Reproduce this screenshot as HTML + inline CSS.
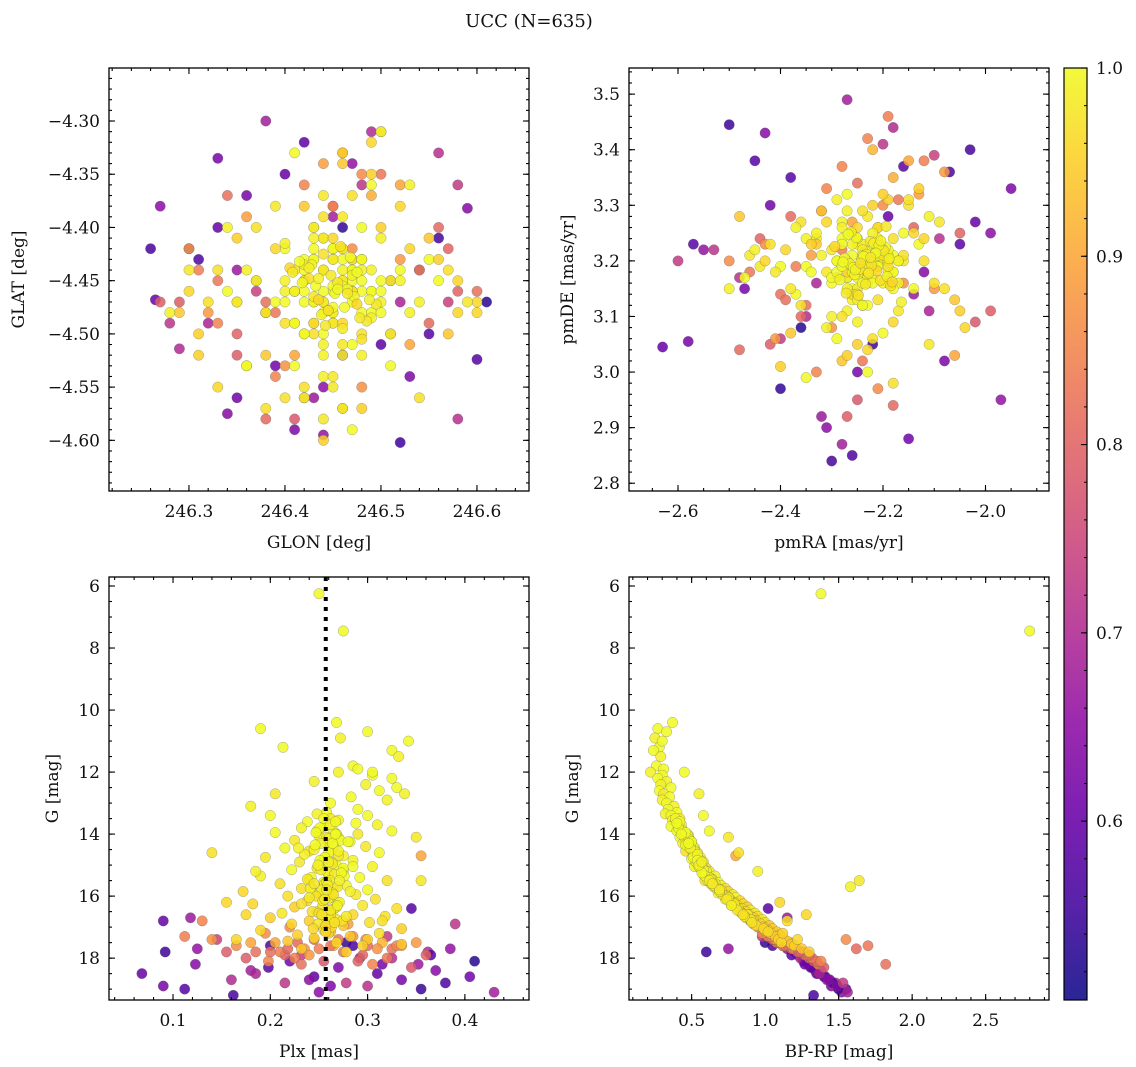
<!DOCTYPE html>
<html><head><meta charset="utf-8">
<style>
html,body{margin:0;padding:0;background:#fff;}
svg{display:block;}
text{font-family:"DejaVu Serif","Liberation Serif",serif;fill:#111;}
</style></head>
<body>
<svg id="fig" width="1136" height="1067" viewBox="0 0 1136 1067" xmlns="http://www.w3.org/2000/svg">
<text x="529" y="27" font-size="18" text-anchor="middle">UCC (N=635)</text>
</svg>
<script>
// ---- data ----
const gA=[10.4,10.6,10.7,10.9,11.2,11.3,11.5,11.8,11.9,12.0,12.1,12.2,12.3,12.4,12.5,12.6,12.7,12.8,12.9,13.0,13.1,13.2,13.3,13.35,13.4,13.5,13.55,13.6,13.7,13.75,13.8,13.9,13.95,14.0,14.05,14.1,14.2,14.25,14.3,14.4,14.45,14.5,14.55,14.6,14.7,14.75,14.8,14.85,14.9,15.0,15.05,15.1,15.15,15.2,15.3,15.35,15.4,15.45,15.5,15.55,15.6,15.65,15.7,15.75,15.8,15.85,15.9,15.95,16.0,16.05,16.1,16.15,16.2,16.25,16.3,16.35,16.4,16.45,16.5,16.55,16.6,16.65,16.7,16.75,16.8,16.85,16.9,16.95,17.0,17.05,17.1,17.15,17.2,17.25,17.3,17.35,17.4,17.45,17.5,17.55,6.25,7.45,15.7,15.5,13.9,14.6,12.7,11.0,16.2,17.6,17.7,17.8,17.4,16.8,15.2,14.1,13.4,12.0,16.6,17.2];
const bprpA=[0.37,0.27,0.33,0.25,0.28,0.24,0.29,0.26,0.31,0.22,0.30,0.27,0.33,0.29,0.36,0.28,0.31,0.35,0.30,0.33,0.38,0.34,0.40,0.32,0.36,0.42,0.37,0.39,0.41,0.36,0.43,0.40,0.45,0.44,0.48,0.42,0.46,0.50,0.44,0.47,0.52,0.49,0.46,0.54,0.51,0.56,0.50,0.53,0.58,0.55,0.52,0.60,0.57,0.62,0.58,0.66,0.61,0.64,0.59,0.68,0.63,0.70,0.66,0.73,0.69,0.75,0.71,0.78,0.74,0.80,0.76,0.83,0.79,0.85,0.81,0.88,0.84,0.90,0.87,0.93,0.89,0.95,0.92,0.98,0.94,1.00,0.97,1.03,0.99,1.05,1.02,1.08,1.04,1.10,1.07,1.12,1.09,1.15,1.11,1.18,1.38,2.80,1.58,1.64,0.62,0.82,0.55,0.30,1.10,1.20,1.25,1.30,1.22,1.15,0.95,0.75,0.58,0.45,1.28,1.12];
const plxA=[0.268,0.190,0.300,0.272,0.213,0.325,0.332,0.285,0.290,0.270,0.305,0.325,0.245,0.298,0.330,0.312,0.205,0.283,0.320,0.262,0.180,0.290,0.258,0.248,0.300,0.262,0.270,0.238,0.310,0.255,0.232,0.265,0.205,0.290,0.250,0.270,0.225,0.282,0.260,0.298,0.215,0.262,0.240,0.312,0.275,0.195,0.258,0.285,0.230,0.268,0.305,0.248,0.222,0.275,0.260,0.190,0.292,0.240,0.320,0.255,0.210,0.278,0.265,0.232,0.300,0.172,0.250,0.288,0.218,0.262,0.308,0.238,0.270,0.182,0.295,0.225,0.330,0.262,0.248,0.212,0.285,0.318,0.200,0.268,0.240,0.302,0.222,0.275,0.255,0.335,0.190,0.262,0.312,0.228,0.282,0.245,0.300,0.218,0.268,0.335,0.250,0.275,0.242,0.355,0.325,0.140,0.338,0.342,0.155,0.295,0.232,0.278,0.165,0.315,0.185,0.350,0.200,0.305,0.175,0.260];
const glonA=[246.45,246.42,246.48,246.40,246.46,246.44,246.50,246.43,246.47,246.41,246.39,246.52,246.44,246.46,246.49,246.37,246.45,246.42,246.53,246.48,246.36,246.47,246.43,246.51,246.40,246.46,246.44,246.49,246.38,246.55,246.42,246.45,246.48,246.35,246.50,246.41,246.47,246.44,246.52,246.39,246.46,246.43,246.57,246.40,246.48,246.45,246.34,246.51,246.44,246.42,246.47,246.38,246.50,246.45,246.33,246.54,246.43,246.46,246.41,246.49,246.32,246.44,246.48,246.40,246.56,246.45,246.42,246.47,246.37,246.51,246.44,246.30,246.46,246.58,246.41,246.49,246.43,246.36,246.53,246.45,246.39,246.47,246.31,246.44,246.50,246.42,246.60,246.46,246.35,246.48,246.43,246.55,246.40,246.46,246.29,246.52,246.44,246.38,246.49,246.57,246.45,246.47,246.34,246.59,246.36,246.54,246.28,246.50,246.33,246.56,246.42,246.31,246.58,246.38,246.53,246.30,246.47,246.41,246.60,246.35];
const glatA=[-4.46,-4.44,-4.48,-4.45,-4.42,-4.50,-4.47,-4.43,-4.45,-4.49,-4.47,-4.44,-4.41,-4.52,-4.46,-4.45,-4.49,-4.43,-4.48,-4.40,-4.44,-4.51,-4.47,-4.45,-4.42,-4.39,-4.54,-4.46,-4.48,-4.43,-4.50,-4.43,-4.46,-4.47,-4.41,-4.53,-4.44,-4.48,-4.45,-4.38,-4.45,-4.49,-4.44,-4.47,-4.52,-4.42,-4.46,-4.50,-4.37,-4.46,-4.43,-4.48,-4.46,-4.55,-4.44,-4.47,-4.40,-4.51,-4.46,-4.36,-4.47,-4.52,-4.43,-4.49,-4.45,-4.41,-4.56,-4.46,-4.40,-4.53,-4.39,-4.46,-4.57,-4.48,-4.44,-4.35,-4.50,-4.53,-4.42,-4.54,-4.42,-4.37,-4.50,-4.58,-4.40,-4.55,-4.47,-4.34,-4.47,-4.57,-4.49,-4.41,-4.56,-4.33,-4.48,-4.38,-4.60,-4.52,-4.32,-4.50,-4.455,-4.44,-4.40,-4.47,-4.53,-4.56,-4.48,-4.31,-4.55,-4.43,-4.38,-4.52,-4.45,-4.57,-4.36,-4.44,-4.59,-4.33,-4.48,-4.41];
const pmraA=[-2.24,-2.22,-2.27,-2.20,-2.25,-2.30,-2.18,-2.23,-2.26,-2.21,-2.28,-2.19,-2.25,-2.32,-2.22,-2.16,-2.27,-2.24,-2.20,-2.29,-2.23,-2.35,-2.21,-2.26,-2.18,-2.31,-2.24,-2.14,-2.28,-2.22,-2.27,-2.20,-2.34,-2.25,-2.17,-2.29,-2.23,-2.37,-2.21,-2.26,-2.19,-2.30,-2.24,-2.13,-2.27,-2.38,-2.22,-2.25,-2.33,-2.18,-2.28,-2.21,-2.40,-2.24,-2.15,-2.31,-2.26,-2.19,-2.36,-2.23,-2.12,-2.29,-2.25,-2.42,-2.20,-2.27,-2.33,-2.17,-2.24,-2.30,-2.22,-2.39,-2.11,-2.26,-2.44,-2.19,-2.28,-2.35,-2.23,-2.16,-2.31,-2.10,-2.25,-2.46,-2.20,-2.36,-2.14,-2.28,-2.41,-2.22,-2.18,-2.33,-2.08,-2.27,-2.48,-2.24,-2.13,-2.38,-2.21,-2.06,-2.26,-2.23,-2.45,-2.09,-2.35,-2.15,-2.50,-2.29,-2.12,-2.40,-2.32,-2.05,-2.43,-2.18,-2.37,-2.11,-2.47,-2.27,-2.04,-2.34];
const pmdeA=[3.19,3.21,3.17,3.20,3.23,3.16,3.18,3.22,3.15,3.20,3.24,3.18,3.14,3.21,3.19,3.25,3.17,3.12,3.22,3.20,3.16,3.19,3.26,3.13,3.21,3.18,3.23,3.15,3.27,3.19,3.11,3.22,3.18,3.24,3.16,3.20,3.28,3.14,3.19,3.25,3.21,3.10,3.17,3.23,3.29,3.15,3.20,3.09,3.24,3.18,3.26,3.13,3.19,3.22,3.30,3.08,3.21,3.16,3.27,3.12,3.20,3.31,3.15,3.23,3.07,3.18,3.25,3.11,3.29,3.17,3.06,3.22,3.28,3.14,3.19,3.31,3.10,3.24,3.04,3.20,3.27,3.16,3.05,3.21,3.32,3.12,3.25,3.02,3.18,3.30,3.09,3.23,3.15,3.03,3.28,3.19,3.33,3.07,3.26,3.13,3.18,3.00,3.22,3.27,2.99,3.31,3.15,3.06,3.24,3.01,3.29,3.11,3.20,2.98,3.26,3.05,3.17,3.32,3.08,3.23];
const probA=[1.0,1.0,1.0,0.99,1.0,1.0,0.99,1.0,1.0,0.99,1.0,1.0,0.99,0.99,1.0,1.0,0.98,1.0,0.99,1.0,0.99,1.0,1.0,0.99,1.0,0.98,0.99,1.0,0.99,1.0,0.99,1.0,1.0,0.98,0.99,1.0,0.98,1.0,0.99,0.98,1.0,0.99,0.97,1.0,0.99,0.98,1.0,0.99,0.98,1.0,0.99,0.97,1.0,0.98,0.97,0.99,1.0,0.98,0.97,1.0,0.97,0.99,0.98,0.97,1.0,0.96,0.99,0.98,0.97,1.0,0.97,0.96,0.99,0.96,0.98,0.95,0.97,0.99,0.96,0.98,0.96,0.97,0.95,0.98,0.95,0.97,0.96,0.94,0.98,0.95,0.96,0.94,0.97,0.95,0.94,0.96,0.95,0.94,0.96,0.94,1.0,1.0,0.99,0.98,1.0,0.97,0.99,1.0,0.96,0.95,0.94,0.95,0.96,0.97,0.99,0.98,1.0,1.0,0.96,0.95];

const gD=[13.5,13.7,13.9,14.0,14.1,14.2,14.3,14.4,14.5,14.6,14.7,14.8,14.9,15.0,15.1,15.2,15.3,15.4,15.5,15.6,15.7,15.8,15.9,16.0,16.1,16.2,16.3,16.4,16.5,16.6,16.7,16.8,16.9,17.0,17.1,13.6,13.8,14.15,14.35,14.55,14.75,14.95,15.15,15.35,15.55,15.75,15.95,16.15,16.35,16.55,16.75,16.95,14.25,14.65,15.05,15.45,15.85,16.25,16.65,17.05,13.65,14.45,15.25,16.05,16.85,14.85,15.65,16.45,13.95,15.5,16.1,14.3,15.0,15.8,16.6,14.0,14.9,15.6,16.3,17.15];
const bprpD=[0.39,0.43,0.44,0.47,0.45,0.49,0.47,0.51,0.50,0.53,0.52,0.55,0.53,0.57,0.56,0.60,0.58,0.62,0.61,0.66,0.65,0.70,0.68,0.74,0.73,0.78,0.77,0.82,0.83,0.88,0.87,0.92,0.93,0.98,1.00,0.42,0.41,0.48,0.46,0.52,0.51,0.56,0.58,0.59,0.64,0.67,0.71,0.76,0.80,0.84,0.90,0.94,0.50,0.54,0.55,0.63,0.69,0.79,0.86,0.99,0.40,0.49,0.57,0.75,0.91,0.54,0.65,0.81,0.46,0.62,0.74,0.48,0.55,0.69,0.85,0.43,0.57,0.64,0.77,1.02];
const plxD=[0.255,0.262,0.248,0.268,0.258,0.272,0.252,0.265,0.245,0.260,0.270,0.255,0.263,0.250,0.275,0.258,0.266,0.242,0.261,0.256,0.269,0.253,0.264,0.247,0.259,0.271,0.254,0.266,0.243,0.262,0.257,0.274,0.249,0.263,0.255,0.267,0.251,0.260,0.246,0.270,0.256,0.264,0.252,0.276,0.258,0.241,0.265,0.254,0.268,0.250,0.261,0.257,0.280,0.235,0.285,0.238,0.282,0.232,0.278,0.244,0.288,0.229,0.273,0.240,0.266,0.251,0.259,0.262,0.247,0.271,0.256,0.264,0.249,0.258,0.253,0.267,0.260,0.245,0.269,0.257];
const glonD=[246.44,246.46,246.42,246.48,246.45,246.43,246.47,246.41,246.49,246.44,246.46,246.43,246.45,246.47,246.42,246.48,246.44,246.46,246.40,246.50,246.45,246.43,246.47,246.44,246.41,246.49,246.46,246.42,246.48,246.45,246.43,246.47,246.44,246.46,246.42,246.50,246.45,246.41,246.48,246.44,246.46,246.43,246.47,246.45,246.42,246.49,246.44,246.46,246.40,246.48,246.455,246.435,246.475,246.445,246.415,246.485,246.465,246.425,246.495,246.405,246.452,246.438,246.468,246.442,246.458,246.432,246.472,246.448,246.462,246.428,246.478,246.418,246.488,246.408,246.445,246.455,246.435,246.465,246.425,246.475];
const glatD=[-4.46,-4.44,-4.47,-4.45,-4.48,-4.43,-4.46,-4.49,-4.44,-4.47,-4.45,-4.42,-4.48,-4.46,-4.50,-4.44,-4.47,-4.43,-4.46,-4.45,-4.49,-4.41,-4.47,-4.44,-4.46,-4.48,-4.42,-4.45,-4.50,-4.43,-4.47,-4.46,-4.44,-4.49,-4.45,-4.48,-4.42,-4.46,-4.43,-4.51,-4.455,-4.465,-4.445,-4.475,-4.435,-4.485,-4.425,-4.495,-4.415,-4.505,-4.452,-4.468,-4.442,-4.478,-4.432,-4.488,-4.458,-4.448,-4.472,-4.438,-4.462,-4.482,-4.428,-4.492,-4.418,-4.455,-4.465,-4.445,-4.475,-4.435,-4.485,-4.452,-4.468,-4.442,-4.478,-4.458,-4.448,-4.462,-4.438,-4.472];
const pmraD=[-2.23,-2.21,-2.25,-2.19,-2.24,-2.27,-2.20,-2.22,-2.26,-2.18,-2.24,-2.29,-2.21,-2.23,-2.17,-2.25,-2.20,-2.28,-2.22,-2.24,-2.19,-2.26,-2.23,-2.16,-2.25,-2.21,-2.30,-2.22,-2.18,-2.24,-2.27,-2.20,-2.23,-2.25,-2.19,-2.22,-2.28,-2.17,-2.24,-2.21,-2.235,-2.215,-2.255,-2.195,-2.245,-2.275,-2.205,-2.225,-2.265,-2.185,-2.232,-2.212,-2.252,-2.192,-2.242,-2.272,-2.202,-2.222,-2.262,-2.182,-2.238,-2.218,-2.258,-2.198,-2.248,-2.278,-2.208,-2.228,-2.268,-2.188,-2.234,-2.214,-2.254,-2.194,-2.244,-2.284,-2.204,-2.224,-2.164,-2.294];
const pmdeD=[3.19,3.21,3.17,3.22,3.18,3.20,3.16,3.23,3.19,3.15,3.21,3.18,3.24,3.17,3.20,3.14,3.22,3.19,3.25,3.16,3.20,3.23,3.18,3.21,3.13,3.19,3.22,3.17,3.24,3.20,3.15,3.21,3.18,3.26,3.19,3.16,3.23,3.20,3.12,3.22,3.195,3.215,3.175,3.225,3.185,3.205,3.165,3.235,3.195,3.155,3.212,3.182,3.242,3.172,3.202,3.142,3.222,3.192,3.252,3.162,3.208,3.232,3.188,3.218,3.138,3.198,3.228,3.178,3.248,3.204,3.158,3.214,3.184,3.262,3.196,3.166,3.236,3.206,3.126,3.226];
const probD=[1.0,0.99,1.0,1.0,0.98,1.0,0.99,1.0,0.99,1.0,0.98,1.0,0.99,1.0,1.0,0.99,0.98,1.0,0.99,1.0,0.98,0.99,1.0,0.97,0.99,1.0,0.98,0.99,0.97,0.98,0.99,0.97,0.98,0.96,0.97,1.0,1.0,0.99,1.0,0.99,1.0,0.98,0.99,1.0,0.98,0.99,0.97,0.98,0.99,0.97,0.98,0.96,1.0,0.99,1.0,0.98,0.99,0.97,0.98,0.96,1.0,0.99,1.0,0.98,0.97,1.0,0.99,0.98,1.0,0.99,0.98,1.0,0.99,0.98,0.97,1.0,0.99,0.98,0.99,0.96];

const gB=[17.6,17.8,17.5,17.9,18.0,17.7,17.4,18.1,17.6,17.8,17.3,17.9,18.2,17.5,17.7,17.6,18.0,17.2,17.8,17.5,17.9,17.4,18.1,17.7,17.6,18.3,17.5,17.8,17.0,17.7,16.9,17.6,18.0,17.4,17.8,16.8,17.5,17.9,17.3,18.2,14.7,17.6,17.7,17.4,18.1];
const bprpB=[1.15,1.22,1.08,1.28,1.30,1.20,1.05,1.33,1.12,1.25,1.02,1.27,1.36,1.10,1.18,1.16,1.31,0.98,1.24,1.09,1.29,1.06,1.35,1.21,1.14,1.40,1.11,1.26,0.95,1.19,0.92,1.13,1.32,1.07,1.23,0.90,1.17,1.30,1.04,1.82,0.80,1.70,1.62,1.55,1.38];
const plxB=[0.165,0.185,0.205,0.215,0.225,0.235,0.245,0.255,0.265,0.275,0.285,0.295,0.305,0.315,0.325,0.335,0.175,0.195,0.210,0.228,0.240,0.270,0.290,0.310,0.330,0.345,0.180,0.200,0.220,0.250,0.280,0.300,0.320,0.140,0.155,0.130,0.350,0.360,0.112,0.232,0.355,0.262,0.218,0.298,0.198];
const glonB=[246.43,246.38,246.52,246.35,246.47,246.30,246.55,246.41,246.49,246.33,246.46,246.58,246.39,246.44,246.51,246.36,246.29,246.48,246.54,246.42,246.32,246.45,246.57,246.40,246.50,246.37,246.53,246.34,246.46,246.31,246.44,246.56,246.39,246.48,246.27,246.42,246.52,246.35,246.45,246.60,246.41,246.50,246.38,246.47,246.33];
const glatB=[-4.40,-4.47,-4.36,-4.52,-4.43,-4.42,-4.49,-4.58,-4.37,-4.45,-4.33,-4.46,-4.54,-4.41,-4.50,-4.39,-4.47,-4.35,-4.44,-4.56,-4.48,-4.38,-4.42,-4.53,-4.31,-4.45,-4.51,-4.37,-4.57,-4.44,-4.34,-4.40,-4.48,-4.55,-4.47,-4.36,-4.43,-4.50,-4.38,-4.46,-4.52,-4.35,-4.58,-4.42,-4.49];
const pmraB=[-2.20,-2.35,-2.15,-2.42,-2.28,-2.10,-2.38,-2.25,-2.18,-2.46,-2.30,-2.05,-2.33,-2.22,-2.40,-2.13,-2.27,-2.50,-2.19,-2.36,-2.08,-2.24,-2.44,-2.16,-2.31,-2.02,-2.26,-2.39,-2.21,-2.12,-2.34,-2.48,-2.17,-2.29,-1.99,-2.23,-2.41,-2.14,-2.37,-2.25,-2.06,-2.32,-2.18,-2.43,-2.28];
const pmdeB=[3.30,3.12,3.38,3.05,3.22,3.15,3.28,2.95,3.35,3.18,3.08,3.25,3.00,3.40,3.14,3.32,2.92,3.20,3.46,3.10,3.36,3.02,3.24,3.16,3.33,3.09,3.27,3.13,2.97,3.38,3.21,3.04,3.31,3.17,3.11,3.42,3.06,3.26,3.19,3.34,3.03,3.29,2.94,3.23,3.37];
const probB=[0.86,0.82,0.90,0.79,0.84,0.88,0.81,0.78,0.91,0.83,0.87,0.80,0.85,0.92,0.82,0.89,0.79,0.86,0.84,0.81,0.88,0.83,0.80,0.87,0.85,0.78,0.90,0.82,0.86,0.84,0.89,0.81,0.83,0.87,0.79,0.85,0.88,0.80,0.84,0.82,0.90,0.83,0.81,0.86,0.85];

const gC=[18.5,18.9,17.8,19.0,18.2,17.7,18.7,19.2,18.4,17.6,18.8,18.1,17.9,18.6,19.1,18.3,17.5,18.0,18.9,18.5,17.3,18.7,16.4,18.2,19.0,17.8,18.4,18.8,17.7,16.9,18.6,18.1,19.1,17.4,18.3,18.9,17.6,18.0,18.7,16.8,18.5,17.9,18.8,18.2,16.7];
const bprpC=[1.35,1.45,0.60,1.55,1.30,0.75,1.42,1.33,1.38,1.05,1.48,1.28,1.22,1.40,1.52,1.32,1.00,1.25,1.47,1.36,0.98,1.44,1.02,1.29,1.50,1.20,1.34,1.46,1.15,0.95,1.41,1.26,1.56,1.08,1.31,1.49,1.12,1.24,1.43,0.93,1.37,1.18,1.53,1.27,1.15];
const plxC=[0.068,0.090,0.092,0.112,0.123,0.125,0.160,0.162,0.180,0.200,0.215,0.220,0.232,0.245,0.250,0.270,0.278,0.292,0.300,0.310,0.320,0.335,0.345,0.352,0.355,0.362,0.370,0.380,0.385,0.390,0.405,0.410,0.430,0.145,0.198,0.262,0.285,0.325,0.240,0.090,0.185,0.365,0.278,0.315,0.118];
const glonC=[246.265,246.33,246.52,246.60,246.59,246.44,246.29,246.56,246.38,246.31,246.48,246.35,246.57,246.42,246.27,246.53,246.46,246.32,246.58,246.40,246.51,246.36,246.55,246.43,246.30,246.49,246.34,246.54,246.47,246.28,246.39,246.61,246.45,246.37,246.50,246.41,246.26,246.56,246.44,246.33,246.52,246.38,246.58,246.46,246.35];
const glatC=[-4.468,-4.335,-4.602,-4.524,-4.382,-4.595,-4.514,-4.410,-4.300,-4.430,-4.360,-4.560,-4.470,-4.320,-4.380,-4.540,-4.400,-4.490,-4.580,-4.350,-4.450,-4.370,-4.500,-4.560,-4.420,-4.310,-4.575,-4.440,-4.340,-4.490,-4.530,-4.470,-4.390,-4.460,-4.510,-4.590,-4.420,-4.330,-4.550,-4.400,-4.470,-4.480,-4.360,-4.520,-4.440];
const pmraC=[-2.63,-2.58,-2.50,-2.45,-2.43,-2.55,-2.35,-2.30,-2.27,-2.26,-2.20,-2.15,-2.10,-2.05,-1.99,-1.95,-2.40,-2.33,-2.09,-2.02,-2.60,-2.47,-2.38,-2.32,-2.22,-2.18,-2.12,-2.07,-1.97,-2.53,-2.42,-2.36,-2.28,-2.24,-2.16,-2.08,-2.03,-2.48,-2.31,-2.19,-2.11,-2.57,-2.40,-2.25,-2.14];
const pmdeC=[3.045,3.055,3.445,3.38,3.43,3.22,3.10,2.84,3.49,2.85,3.41,2.88,3.39,3.23,3.25,3.33,2.97,3.16,3.24,3.27,3.20,3.15,3.35,2.92,3.05,3.44,3.18,3.36,2.95,3.22,3.30,3.08,2.87,3.12,3.37,3.02,3.40,3.17,2.90,3.28,3.11,3.23,3.06,3.00,3.14];
const probC=[0.60,0.62,0.55,0.58,0.64,0.66,0.70,0.56,0.68,0.57,0.72,0.61,0.74,0.59,0.65,0.63,0.54,0.69,0.71,0.60,0.73,0.62,0.58,0.67,0.55,0.70,0.64,0.57,0.66,0.72,0.61,0.53,0.68,0.74,0.59,0.63,0.56,0.71,0.65,0.60,0.69,0.58,0.73,0.62,0.67];

const plxMedian=[0.257];
const probTicks=[0.6,0.7,0.8,0.9,1.0];

// ---- helpers ----
const NS='http://www.w3.org/2000/svg';
const svg=document.getElementById('fig');
function mk(tag,attrs,parent){const e=document.createElementNS(NS,tag);for(const k in attrs)e.setAttribute(k,attrs[k]);(parent||svg).appendChild(e);return e;}
const plasma=[[13,8,135],[65,4,157],[106,0,168],[143,13,164],[177,42,144],[204,71,120],[225,100,98],[242,132,75],[252,166,54],[252,206,37],[240,249,33]];
function cmap(t){t=Math.max(0,Math.min(1,t));const f=t*10,i=Math.min(9,Math.floor(f)),r=f-i;const a=plasma[i],b=plasma[i+1];return 'rgb('+[0,1,2].map(k=>Math.round(a[k]+(b[k]-a[k])*r)).join(',')+')';}
const VMIN=0.505,VMAX=1.0;
function fmt(v,d){const s=Math.abs(v).toFixed(d);return (v<-1e-9?'\u2212':'')+s;}

const all={
  glon:[...glonC,...glonB,...glonA,...glonD], glat:[...glatC,...glatB,...glatA,...glatD],
  pmra:[...pmraC,...pmraB,...pmraA,...pmraD], pmde:[...pmdeC,...pmdeB,...pmdeA,...pmdeD],
  plx:[...plxC,...plxB,...plxA,...plxD], g:[...gC,...gB,...gA,...gD],
  bprp:[...bprpC,...bprpB,...bprpA,...bprpD], p:[...probC,...probB,...probA,...probD]
};

function panel(cfg){
  const {name,x0,y0,w,h,xd,yd,xt,yt,xm,ym,xdec,ydec,xlab,ylab,ylabX,xk,yk}=cfg;
  const g=mk('g',{});
  
  
  const sx=v=>x0+(v-xd[0])/(xd[1]-xd[0])*w;
  const sy=v=>y0+(v-yd[0])/(yd[1]-yd[0])*h;
  const clip=mk('clipPath',{id:'clip-'+name},g);
  mk('rect',{x:x0,y:y0,width:w,height:h},clip);
  const pts=mk('g',{'clip-path':'url(#clip-'+name+')'},g);
  
  
  const xs=all[xk],ys=all[yk];
  for(let i=0;i<xs.length;i++){
    const c=mk('circle',{cx:sx(xs[i]).toFixed(1),cy:sy(ys[i]).toFixed(1),r:5.2,fill:cmap((all.p[i]-VMIN)/(VMAX-VMIN)),'fill-opacity':0.85,stroke:'#555','stroke-opacity':0.5,'stroke-width':0.5},pts);
    
    
  }
  if(cfg.vline){
    const l=mk('line',{x1:sx(cfg.vline),x2:sx(cfg.vline),y1:y0,y2:y0+h,stroke:'#000','stroke-width':4,'stroke-dasharray':'4,6'},g);
    
    
  }
  const fr=mk('rect',{x:x0,y:y0,width:w,height:h,fill:'none',stroke:'#000','stroke-width':1.3},g);
  
  
  const tk=mk('g',{stroke:'#000','stroke-width':1.1},g);
  
  
  const lo=Math.min(xd[0],xd[1]),hi=Math.max(xd[0],xd[1]);
  for(let v=Math.ceil(lo/xm-1e-6)*xm;v<=hi+1e-9;v+=xm){const X=sx(v);mk('line',{x1:X,x2:X,y1:y0+h,y2:y0+h-3},tk);mk('line',{x1:X,x2:X,y1:y0,y2:y0+3},tk);}
  const ylo=Math.min(yd[0],yd[1]),yhi=Math.max(yd[0],yd[1]);
  for(let v=Math.ceil(ylo/ym-1e-6)*ym;v<=yhi+1e-9;v+=ym){const Y=sy(v);mk('line',{x1:x0,x2:x0+3,y1:Y,y2:Y},tk);mk('line',{x1:x0+w,x2:x0+w-3,y1:Y,y2:Y},tk);}
  xt.forEach(v=>{const X=sx(v);mk('line',{x1:X,x2:X,y1:y0+h,y2:y0+h-6},tk);mk('line',{x1:X,x2:X,y1:y0,y2:y0+6},tk);
    const t=mk('text',{x:X,y:y0+h+26,'font-size':17,'text-anchor':'middle'},g);t.textContent=fmt(v,xdec);
    
    });
  yt.forEach(v=>{const Y=sy(v);mk('line',{x1:x0,x2:x0+6,y1:Y,y2:Y},tk);mk('line',{x1:x0+w,x2:x0+w-6,y1:Y,y2:Y},tk);
    const t=mk('text',{x:x0-9,y:Y+6,'font-size':17,'text-anchor':'end'},g);t.textContent=fmt(v,ydec);
    
    });
  const xl=mk('text',{x:x0+w/2,y:y0+h+57,'font-size':17,'text-anchor':'middle'},g);xl.textContent=xlab;
  
  
  const yl=mk('text',{x:ylabX,y:y0+h/2,'font-size':17,'text-anchor':'middle',transform:'rotate(-90 '+ylabX+' '+(y0+h/2)+')'},g);yl.textContent=ylab;
  
  
}

panel({name:'glon-glat-panel',x0:109,y0:68,w:420,h:423,xd:[246.2167,246.6542],yd:[-4.2502,-4.6476],xt:[246.3,246.4,246.5,246.6],yt:[-4.30,-4.35,-4.40,-4.45,-4.50,-4.55,-4.60],xm:0.02,ym:0.01,xdec:1,ydec:2,xlab:'GLON [deg]',ylab:'GLAT [deg]',ylabX:24,xk:'glon',yk:'glat'});
panel({name:'proper-motion-panel',x0:629,y0:68,w:420,h:423,xd:[-2.6956,-1.8761],yd:[3.547,2.786],xt:[-2.6,-2.4,-2.2,-2.0],yt:[3.5,3.4,3.3,3.2,3.1,3.0,2.9,2.8],xm:0.05,ym:0.02,xdec:1,ydec:1,xlab:'pmRA [mas/yr]',ylab:'pmDE [mas/yr]',ylabX:573,xk:'pmra',yk:'pmde'});
panel({name:'parallax-mag-panel',x0:109,y0:577,w:420,h:423,xd:[0.0342,0.4659],yd:[5.71,19.35],xt:[0.1,0.2,0.3,0.4],yt:[6,8,10,12,14,16,18],xm:0.02,ym:0.5,xdec:1,ydec:0,xlab:'Plx [mas]',ylab:'G [mag]',ylabX:58,xk:'plx',yk:'g',vline:plxMedian[0]});
panel({name:'cmd-panel',x0:629,y0:577,w:420,h:423,xd:[0.074,2.931],yd:[5.71,19.35],xt:[0.5,1.0,1.5,2.0,2.5],yt:[6,8,10,12,14,16,18],xm:0.1,ym:0.5,xdec:1,ydec:0,xlab:'BP-RP [mag]',ylab:'G [mag]',ylabX:578,xk:'bprp',yk:'g'});

// colorbar
(function(){
  const x0=1064,y0=68,w=23,h=932;
  const cb=mk('g',{});
  
  
  const defs=mk('defs',{},cb);
  const lg=mk('linearGradient',{id:'plasmaGrad',x1:0,y1:1,x2:0,y2:0},defs);
  for(let i=0;i<=20;i++){mk('stop',{offset:(i/20),'stop-color':cmap(i/20),'stop-opacity':0.88},lg);}
  const r=mk('rect',{x:x0,y:y0,width:w,height:h,fill:'url(#plasmaGrad)',stroke:'#000','stroke-width':1.2},cb);
  
  
  const sy=v=>y0+h-(v-VMIN)/(VMAX-VMIN)*h;
  for(let v=0.52;v<=1.0001;v+=0.02){const Y=sy(v);mk('line',{x1:x0+w,x2:x0+w-3,y1:Y,y2:Y,stroke:'#000','stroke-width':1},cb);}
  probTicks.forEach(v=>{const Y=sy(v);mk('line',{x1:x0+w,x2:x0+w-6,y1:Y,y2:Y,stroke:'#000','stroke-width':1.1},cb);
    const t=mk('text',{x:x0+w+9,y:Y+6,'font-size':17},cb);t.textContent=v.toFixed(1);
    
    });
})();
</script>
</body></html>
